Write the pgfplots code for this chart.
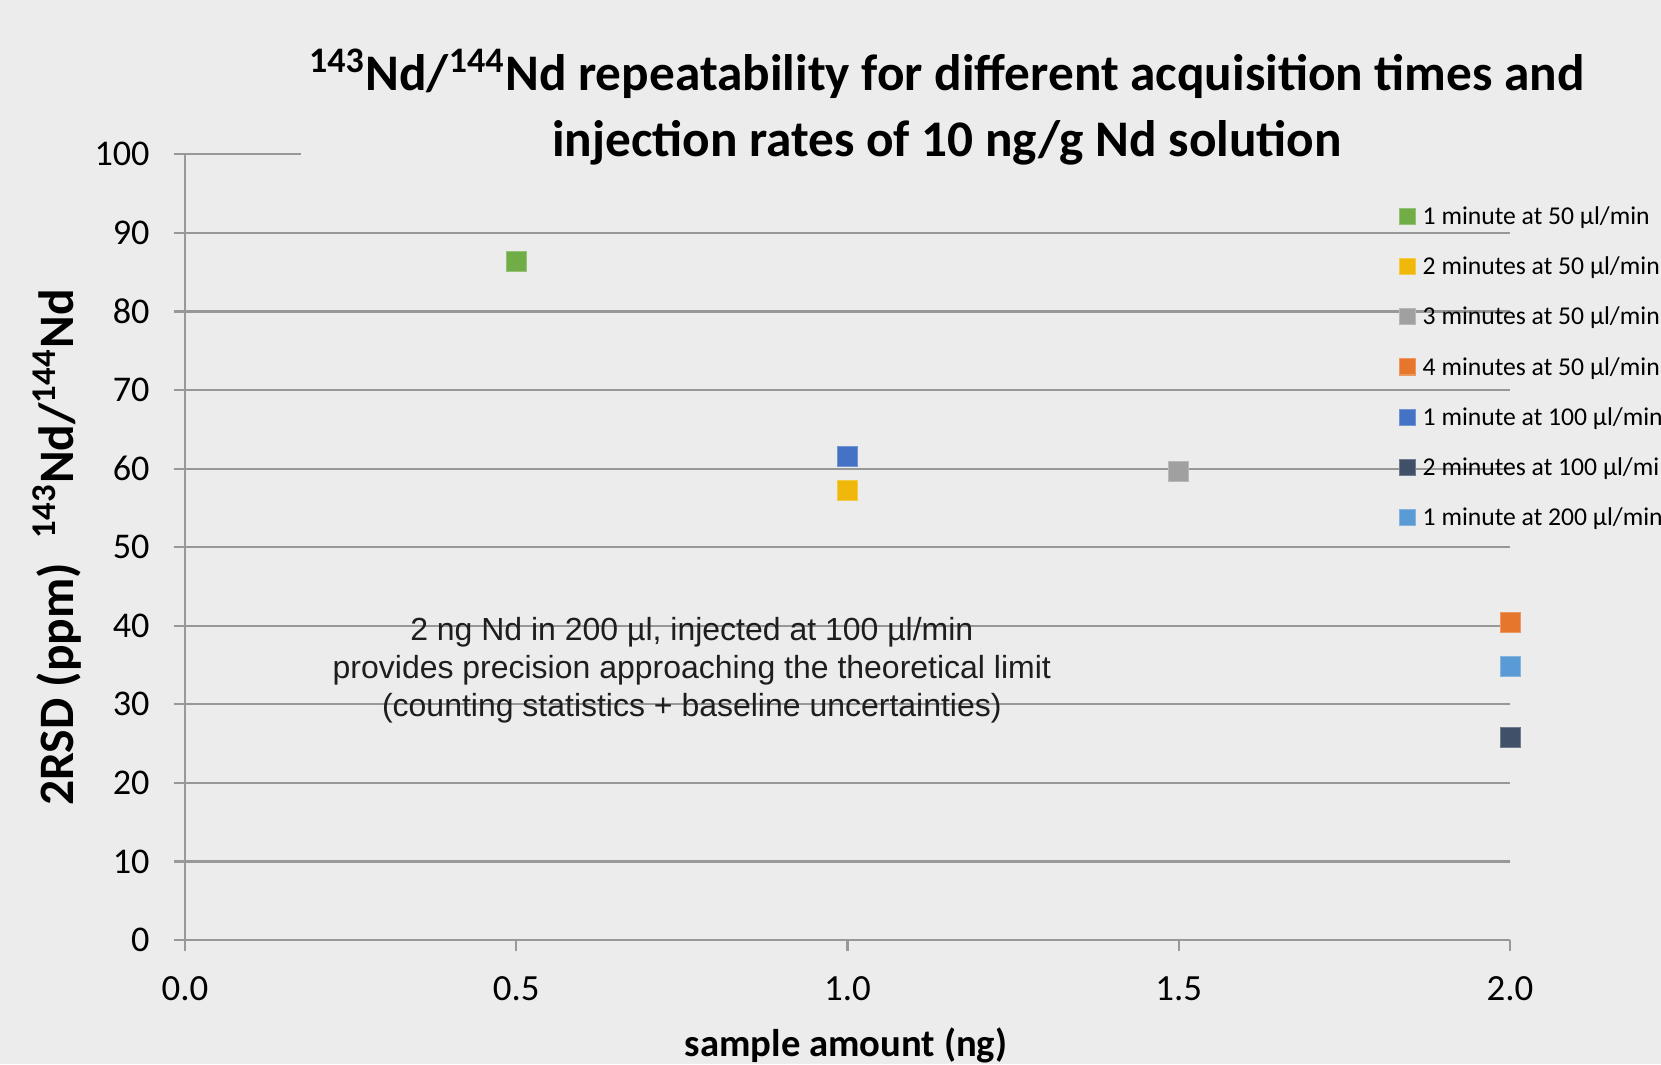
\documentclass[border=0pt]{standalone}
\usepackage{fontspec}
\setmainfont{Carlito}
\newfontfamily\arialfont{Liberation Sans}
\usepackage{pgfplots}
\pgfplotsset{compat=1.18}
\definecolor{bg}{RGB}{236,236,237}
\definecolor{gridgray}{RGB}{152,152,152}
\definecolor{cgreen}{RGB}{112,173,71}
\definecolor{cyellow}{RGB}{240,184,10}
\definecolor{cgray}{RGB}{160,160,160}
\definecolor{corange}{RGB}{229,118,44}
\definecolor{cblue}{RGB}{68,114,196}
\definecolor{cnavy}{RGB}{64,80,104}
\definecolor{clblue}{RGB}{91,155,213}
\definecolor{txt}{RGB}{30,30,30}
\begin{document}
\begin{tikzpicture}[x=1cm,y=1cm]
\useasboundingbox (0,0) rectangle (16.61,10.64);
\clip (0,0) rectangle (16.61,10.64);
\fill[bg] (0,0) rectangle (16.61,10.64);
\begin{axis}[
  at={(1.85cm,1.24cm)}, anchor=south west,
  scale only axis, width=13.25cm, height=7.857cm,
  xmin=0, xmax=2, ymin=0, ymax=100,
  clip=false,
  axis x line=bottom, axis y line=left,
  axis line style={draw=gridgray, line width=0.6pt, -},
  xtick={0,0.5,1,1.5,2},
  ytick={0,10,...,90},
  extra y ticks={100},
  extra y tick style={ymajorgrids=false},
  ymajorgrids,
  major grid style={draw=gridgray, line width=0.6pt},
  tick align=outside,
  major tick length=0.11cm,
  tick style={draw=gridgray, line width=0.6pt},
  /pgf/number format/assume math mode=true,
  xticklabel style={/pgf/number format/fixed, /pgf/number format/fixed zerofill, /pgf/number format/precision=1, font=\fontsize{10.5}{12}\selectfont, yshift=-0.13cm},
  yticklabel style={font=\fontsize{10.3}{12}\selectfont, xshift=-0.12cm},
  xlabel={sample amount (ng)},
  xlabel style={at={(rel axis cs:0.4989,-0.1336)}, anchor=center, font=\bfseries\fontsize{11}{13}\selectfont},
  ylabel={2RSD (ppm)\enspace\textsuperscript{143}Nd/\textsuperscript{144}Nd},
  ylabel style={at={(rel axis cs:-0.0965,0.4995)}, anchor=center, font=\bfseries\fontsize{14.1}{17}\selectfont},
  legend style={at={(0.9162,0.9351)}, anchor=north west, draw=none, fill=none, inner sep=0pt,
    font=\fontsize{7.3}{8.8}\selectfont, row sep=7.5pt, column sep=0.07cm,
    nodes={inner sep=0pt, text height=5.2pt, text depth=1.6pt}},
  legend cell align=left,
  legend image code/.code={\draw[#1, mark size=0.08cm] plot coordinates {(0cm,0.5pt)};},
  every axis plot/.append style={only marks, mark=square*, mark size=0.1cm},
]
\draw[gridgray, line width=0.6pt] (axis cs:0,100) -- (axis cs:0.175,100);
\addplot[mark options={fill=cgreen, draw=cgreen!75!white, line width=0.3pt}] coordinates {(0.5,86.4)};
\addlegendentry{1 minute at 50 µl/min}
\addplot[mark options={fill=cyellow, draw=cyellow!75!white, line width=0.3pt}] coordinates {(1.0,57.2)};
\addlegendentry{2 minutes at 50 µl/min}
\addplot[mark options={fill=cgray, draw=cgray!75!white, line width=0.3pt}] coordinates {(1.5,59.65)};
\addlegendentry{3 minutes at 50 µl/min}
\addplot[mark options={fill=corange, draw=corange!75!white, line width=0.3pt}] coordinates {(2.0,40.4)};
\addlegendentry{4 minutes at 50 µl/min}
\addplot[mark options={fill=cblue, draw=cblue!75!white, line width=0.3pt}] coordinates {(1.0,61.5)};
\addlegendentry{1 minute at 100 µl/min}
\addplot[mark options={fill=cnavy, draw=cnavy!75!white, line width=0.3pt}] coordinates {(2.0,25.8)};
\addlegendentry{2 minutes at 100 µl/min}
\addplot[mark options={fill=clblue, draw=clblue!75!white, line width=0.3pt}] coordinates {(2.0,34.8)};
\addlegendentry{1 minute at 200 µl/min}
\node[align=center, text=txt, font=\arialfont\fontsize{9.1}{10.8}\selectfont] at (axis cs:0.765,34.35)
  {2 ng Nd in 200 µl, injected at 100 µl/min\\provides precision approaching the theoretical limit\\(counting statistics + baseline uncertainties)};
\end{axis}
\node[align=center, font=\bfseries\fontsize{14.6}{18.8}\selectfont] at (9.47,9.57)
  {\textsuperscript{143}Nd/\textsuperscript{144}Nd repeatability for different acquisition times and\\injection rates of 10 ng/g Nd solution};
\end{tikzpicture}
\end{document}
